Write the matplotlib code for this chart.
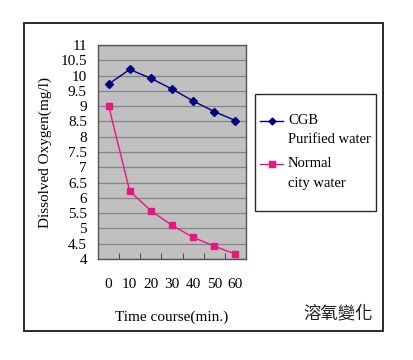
import matplotlib
matplotlib.use("Agg")
import matplotlib.pyplot as plt
from matplotlib.lines import Line2D
from matplotlib.patches import Rectangle

# ── data ─────────────────────────────────────────────
time_labels = ["0", "10", "20", "30", "40", "50", "60"]
cgb_water = [9.72, 10.2, 9.91, 9.56, 9.17, 8.82, 8.53]
city_water = [9.02, 6.22, 5.58, 5.1, 4.71, 4.42, 4.16]
y_ticks = [4, 4.5, 5, 5.5, 6, 6.5, 7, 7.5, 8, 8.5, 9, 9.5, 10, 10.5, 11]

NAVY = "#000080"
PINK = "#E8177F"
SERIF = ["Liberation Serif", "DejaVu Serif"]

W, H = 414, 360
fig = plt.figure(figsize=(W / 100, H / 100), dpi=100)
fig.patch.set_facecolor("white")

def fx(x):
    return x / W

def fy(y):
    return 1 - y / H

# outer frame
fig.patches.append(Rectangle((fx(24), fy(331)), fx(383) - fx(24), fy(23) - fy(331),
                             transform=fig.transFigure, fill=False,
                             edgecolor="#2a2a2a", linewidth=1.4))

ax = fig.add_axes([fx(98), fy(259), fx(246) - fx(98), fy(45) - fy(259)])
ax.set_facecolor("#C0C0C0")
x = list(range(len(time_labels)))
ax.plot(x, cgb_water, color=NAVY, marker="D", markersize=4, linewidth=1.0)
ax.plot(x, city_water, color=PINK, marker="s", markersize=5, linewidth=1.0)

ax.set_xlim(-0.5, len(time_labels) - 0.5)
ax.set_ylim(4, 11)
ax.set_yticks(y_ticks)
ax.set_yticklabels([f"{v:g}" for v in y_ticks], family=SERIF, fontsize=11)
ax.set_xticks(x)
ax.set_xticklabels(time_labels, family=SERIF, fontsize=11)
ax.set_xticks([i + 0.5 for i in x[:-1]], minor=True)
ax.tick_params(axis="x", which="major", length=0, pad=14)
ax.tick_params(axis="x", which="minor", direction="in", length=4, color="#333333")
ax.tick_params(axis="y", which="major", length=0, pad=8)
ax.yaxis.grid(True, color="#858585", linewidth=0.9)
ax.set_axisbelow(True)
for s in ax.spines.values():
    s.set_color("#555555")
    s.set_linewidth(1.0)

ax.set_ylabel("Dissolved Oxygen(mg/l)", family=SERIF, fontsize=11)
ax.yaxis.set_label_coords((45 - 98) / 148, 0.5)
ax.set_xlabel("Time course(min.)", family=SERIF, fontsize=11)
ax.xaxis.set_label_coords(0.5, -(317 - 259) / 214)
ax.xaxis.label.set_va("center")
ax.yaxis.label.set_va("center")

# legend box, drawn by hand so the handles sit on the first text line
fig.patches.append(Rectangle((fx(255), fy(211)), fx(376) - fx(255), fy(94) - fy(211),
                             transform=fig.transFigure, fill=False,
                             edgecolor="#2a2a2a", linewidth=1.0))
for yy, col, mk, ms in [(121, NAVY, "D", 3.5), (164, PINK, "s", 5)]:
    fig.lines.append(Line2D([fx(260), fx(283)], [fy(yy), fy(yy)],
                            transform=fig.transFigure, color=col, linewidth=1.0))
    fig.lines.append(Line2D([fx(271.5)], [fy(yy)], transform=fig.transFigure,
                            color=col, marker=mk, markersize=ms, linestyle="None"))
legend_lines = [(121, "CGB"), (140, "Purified water"), (164, "Normal"), (183, "city water")]
for yy, txt in legend_lines:
    fig.text(fx(288), fy(yy), txt, family=SERIF, fontsize=10.5, va="center", ha="left")

fig.text(fx(373), fy(313), "溶氧變化", family=["Noto Sans CJK TC", "DejaVu Sans"],
         fontsize=12.5, va="center", ha="right", color="#222222")

fig.savefig("out.png", dpi=100)
